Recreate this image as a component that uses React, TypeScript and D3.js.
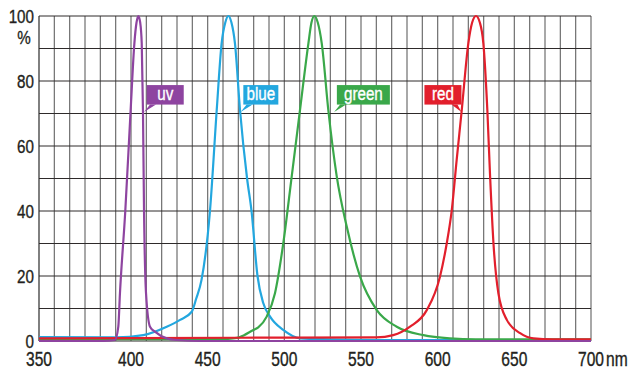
import * as d3 from "d3";

// wavelength ticks (nm) and percentage ticks
const xTicks = [350, 400, 450, 500, 550, 600, 650, 700];
const yTicks = [0, 20, 40, 60, 80, 100];

// relative intensity (%)
const uvWl = [350, 385, 391.3, 393.1, 394, 396.9, 399.8, 402.2, 403.6, 404.8, 406, 407, 407.8, 408.5, 409.8, 412.4, 415.6, 423.3, 429.8, 445, 700];
const uvVal = [0, 0, 0.3, 4.4, 14.7, 40, 71, 91.6, 98, 100, 98, 91.6, 71, 40, 14.7, 4.4, 2.9, 0.8, 0.3, 0, 0];

const blueWl = [350, 392, 408, 423.3, 432, 439.6, 442.5, 446, 451.5, 455.9, 459.1, 461.5, 463.5, 465.5, 467.8, 471.1, 475.7, 478.6, 482.5, 486.3, 490.7, 499.3, 510.2, 530, 560, 700];
const blueVal = [1.2, 1.1, 1.8, 4.4, 6.5, 9, 13, 18.8, 40, 71, 91.6, 98, 100, 98, 91.6, 71, 50, 40, 20, 11.6, 7.5, 3.4, 0.8, 0.5, 0.3, 0.3];

const greenWl = [350, 460, 466.5, 471, 479.8, 483, 488.5, 493.9, 499.3, 504.8, 510.2, 515.7, 517.7, 519.6, 521.8, 524.4, 528.7, 534.2, 540.7, 549.4, 560.3, 573.3, 590.7, 608, 625, 700];
const greenVal = [0.6, 0.6, 0.8, 1.2, 3.4, 4.2, 7.5, 14.7, 30, 50.6, 71, 91.6, 98, 100, 98, 91.6, 71, 50.6, 35.2, 19.8, 9.5, 4.4, 1.8, 0.8, 0.5, 0.5];

const redWl = [350, 470, 560, 571, 582, 592.9, 601.5, 605.9, 609.2, 612.4, 615.7, 620, 622.5, 625, 627.5, 629.8, 632.4, 634.2, 636.4, 639.6, 645.1, 653.8, 662.5, 675, 700];
const redVal = [0.8, 1.0, 1.1, 1.8, 4.4, 9.5, 19.8, 30, 40.3, 55.7, 71, 91.6, 98, 100, 98, 91.6, 71, 50.6, 30, 14.7, 6.5, 2.4, 0.8, 0.5, 0.5];

const seriesNames = ["blue", "green", "red", "uv"];
const seriesColors: Record<string, string> = {
  uv: "#8e44a0",
  blue: "#23a7df",
  green: "#3aa84a",
  red: "#e21f2c",
};
const seriesData: Record<string, [number[], number[]]> = {
  uv: [uvWl, uvVal],
  blue: [blueWl, blueVal],
  green: [greenWl, greenVal],
  red: [redWl, redVal],
};

// callouts: tail tip in data coords (nm, %)
const callouts = [
  { name: "uv", wl: 408.5, pct: 70.5, side: "left" },
  { name: "blue", wl: 471.5, pct: 70.5, side: "left" },
  { name: "green", wl: 532.5, pct: 70.5, side: "left" },
  { name: "red", wl: 615.5, pct: 70.5, side: "right" },
];
const calloutWidth: Record<string, number> = { uv: 37, blue: 35, green: 53, red: 37 };

const FONT = "'Liberation Sans', Arial, sans-serif";
const SQUEEZE = 0.8; // the original type is a condensed face

// text drawn in a horizontally squeezed face, slightly heavier
function NText({ x, y, anchor = "start", size, fill = "#231f20", children }: any) {
  return (
    <text
      transform={`translate(${x},${y}) scale(${SQUEEZE},1)`}
      textAnchor={anchor}
      fontFamily={FONT}
      fontSize={size}
      fill={fill}
      stroke={fill}
      strokeWidth={0.35}
    >
      {children}
    </text>
  );
}

export default function App() {
  const width = 630;
  const height = 373;
  const left = 39;
  const right = 591;
  const top = 16;
  const bottom = 341;

  const cell = (right - left) / 36;
  // the 350–400 stretch is drawn one cell wider than the rest, as in the original
  const x = d3.scaleLinear().domain([350, 400, 700]).range([left, left + 6 * cell, right]);
  const y = d3.scaleLinear().domain([0, 100]).range([bottom, top]);

  const vLines = d3.range(37).map((i) => left + i * cell);
  const hLines = d3.range(0, 101, 10);

  const line = d3
    .line<[number, number]>()
    .x((d) => x(d[0]))
    .y((d) => y(d[1]))
    .curve(d3.curveMonotoneX);

  return (
    <svg
      width={width}
      height={height}
      style={{ position: "absolute", left: 0, top: 0, background: "#fff" }}
    >
      {/* vertical grid */}
      {vLines.map((vx, i) => (
        <line key={"v" + i} x1={vx} x2={vx} y1={top} y2={bottom} stroke={i === 0 ? "#2a2a2a" : "#6e6e6e"} strokeWidth={1.2} />
      ))}
      {/* horizontal grid */}
      {hLines.map((h) => (
        <line key={"h" + h} x1={left} x2={right} y1={y(h)} y2={y(h)} stroke="#2e2a2a" strokeWidth={1} />
      ))}

      {/* curves */}
      {seriesNames.map((name) => {
        const [wl, val] = seriesData[name];
        const pts = wl.map((w, i) => [w, val[i]] as [number, number]);
        return (
          <path key={name} d={line(pts) ?? ""} fill="none" stroke={seriesColors[name]} strokeWidth={2.2} strokeLinejoin="round" />
        );
      })}

      {/* callouts */}
      {callouts.map((c) => {
        const tx = x(c.wl);
        const ty = y(c.pct);
        const w = calloutWidth[c.name];
        const h = 19.5;
        const by = ty - 7.3;
        const bx = c.side === "left" ? tx + 2.7 : tx - w;
        const tail =
          c.side === "left"
            ? `M${tx + 6},${by} L${tx},${ty} L${tx + 12},${by} Z`
            : `M${tx - 10},${by} L${tx},${ty} L${tx - 4},${by} Z`;
        return (
          <g key={c.name}>
            <rect x={bx} y={by - h} width={w} height={h} fill={seriesColors[c.name]} />
            <path d={tail} fill={seriesColors[c.name]} />
            <NText x={bx + w / 2} y={by - 4.5} anchor="middle" size={19} fill="#fff">
              {c.name}
            </NText>
          </g>
        );
      })}

      {/* y labels */}
      {yTicks.map((t) => (
        <NText key={"y" + t} x={34} y={y(t) + 6.5} anchor="end" size={19}>
          {t}
        </NText>
      ))}
      <NText x={24} y={44} anchor="middle" size={19}>
        %
      </NText>

      {/* x labels */}
      {xTicks.map((t) => (
        <NText key={"x" + t} x={x(t)} y={366} anchor="middle" size={19.5}>
          {t}
        </NText>
      ))}
      <NText x={606} y={366} size={19.5}>
        nm
      </NText>
    </svg>
  );
}
